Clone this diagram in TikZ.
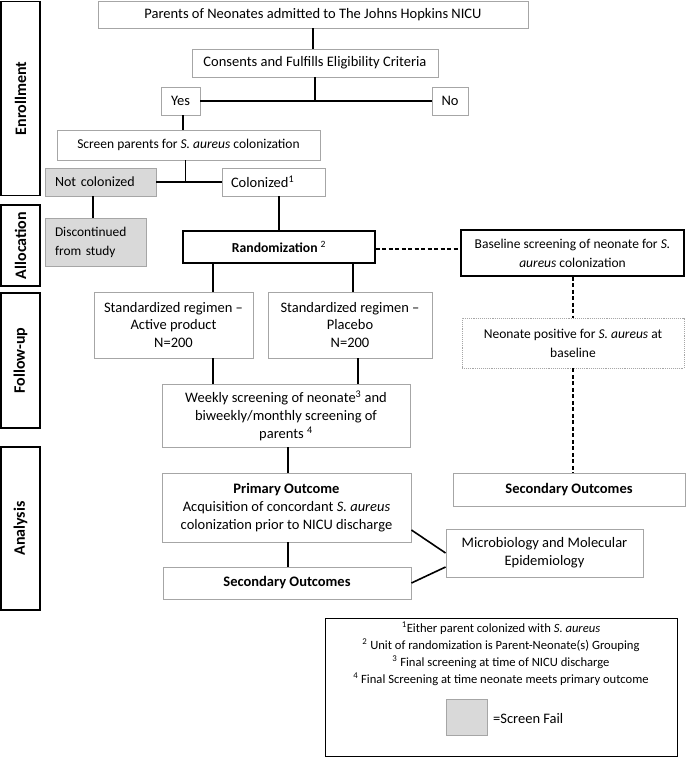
\documentclass[tikz,border=0pt]{standalone}
\usepackage{fontspec}
\setmainfont{Carlito}
\definecolor{boxgray}{HTML}{A6A6A6}
\definecolor{failgray}{HTML}{D9D9D9}
\begin{document}
\begin{tikzpicture}[x=1pt,y=-1pt,
  font=\fontsize{14.5}{18}\selectfont,
  box/.style={draw=boxgray, line width=0.9pt, inner sep=0pt, align=center},
  darkbox/.style={draw=black, line width=1.1pt, inner sep=0pt, align=center},
  failbox/.style={draw=boxgray, fill=failgray, line width=0.9pt, inner xsep=10pt, inner ysep=0pt, align=left},
  dotbox/.style={draw=boxgray, densely dotted, line width=0.9pt, inner sep=0pt, align=center},
  side/.style={draw=black, line width=1.3pt, inner sep=0pt, minimum width=39pt},
  sidetext/.style={rotate=90, inner sep=0pt, font=\fontsize{16}{18}\selectfont\bfseries},
  mid/.style={font=\fontsize{13.5}{19}\selectfont},
  conn/.style={draw=black, line width=1.6pt},
  dconn/.style={draw=black, line width=1.6pt, dash pattern=on 4pt off 2.5pt}]
\useasboundingbox (0,0) rectangle (686,757);

% phase labels
\node[side, minimum height=194pt] (enr) at (20.5,98.5) {};
\node[sidetext] (enrt) at (enr.center) {Enrollment};
\node[side, minimum height=81pt] (alloc) at (20.5,245.5) {};
\node[sidetext] (alloct) at (alloc.center) {Allocation};
\node[side, minimum height=135pt] (fup) at (20.5,360.5) {};
\node[sidetext] (fupt) at (fup.center) {Follow-up};
\node[side, minimum height=163pt] (ana) at (20.5,528.5) {};
\node[sidetext] (anat) at (ana.center) {Analysis};

% boxes
\node[box, minimum width=430pt, minimum height=27pt] (top) at (313,14.5) {Parents of Neonates admitted to The Johns Hopkins NICU};
\node[box, minimum width=246pt, minimum height=28pt] (cons) at (315,63) {Consents and Fulfills Eligibility Criteria};
\node[box, minimum width=39pt, minimum height=28pt] (yes) at (180.5,101) {Yes};
\node[box, minimum width=36pt, minimum height=28pt] (no) at (450,101) {No};
\node[box, minimum width=263pt, minimum height=30pt, font=\fontsize{13.5}{16}\selectfont] (screen) at (188.5,145) {Screen parents for \textit{S. aureus} colonization};
\node[failbox, text width=91pt, minimum height=28pt, font=\fontsize{14}{18}\selectfont] (notcol) at (100.5,182) {Not colonized};
\node[box, inner xsep=9pt, align=left, text width=85pt, minimum height=28pt] (col) at (273.5,182) {Colonized\textsuperscript{1}};
\node[failbox, text width=81pt, minimum height=48pt, font=\fontsize{13.4}{19}\selectfont] (disc) at (95.5,242) {Discontinued\\from study};
\node[darkbox, minimum width=192pt, minimum height=32pt, font=\fontsize{13.7}{17}\selectfont] (rand) at (279,247) {\textbf{Randomization} \textsuperscript{2}};
\node[darkbox, mid, minimum width=223pt, minimum height=46pt] (base) at (572.5,253) {Baseline screening of neonate for \textit{S.}\\\textit{aureus} colonization};
\node[dotbox, mid, minimum width=222pt, minimum height=50pt] (neopos) at (573,343) {Neonate positive for \textit{S. aureus} at\\baseline};
\node[box, minimum width=232pt, minimum height=33pt] (secR) at (569,489.5) {\textbf{Secondary Outcomes}};
\node[box, minimum width=159pt, minimum height=66pt, font=\fontsize{14.5}{17.5}\selectfont] (active) at (173.5,325) {Standardized regimen --\\Active product\\N=200};
\node[box, minimum width=164pt, minimum height=66pt, font=\fontsize{14.5}{17.5}\selectfont] (placebo) at (350,325) {Standardized regimen --\\Placebo\\N=200};
\node[box, minimum width=248pt, minimum height=63pt] (weekly) at (286,415.5) {Weekly screening of neonate\textsuperscript{3} and\\biweekly/monthly screening of\\parents \textsuperscript{4}};
\node[box, minimum width=249pt, minimum height=69pt] (primary) at (286.5,507.5) {\textbf{Primary Outcome}\\Acquisition of concordant \textit{S. aureus}\\colonization prior to NICU discharge};
\node[box, minimum width=248pt, minimum height=32pt] (secL) at (287,583) {\textbf{Secondary Outcomes}};
\node[box, minimum width=197pt, minimum height=48pt] (micro) at (544.5,553) {Microbiology and Molecular\\Epidemiology};

% legend
\node[draw=black, line width=0.9pt, minimum width=352pt, minimum height=138pt, inner sep=0pt] (legend) at (501,687) {};
\node[align=center, inner sep=0pt, font=\fontsize{12.6}{17}\selectfont, anchor=north] (legtext) at (501,622) {\textsuperscript{1}Either parent colonized with \textit{S. aureus}\\\textsuperscript{2} Unit of randomization is Parent-Neonate(s) Grouping\\\textsuperscript{3} Final screening at time of NICU discharge\\\textsuperscript{4} Final Screening at time neonate meets primary outcome};
\node[draw=boxgray, fill=failgray, line width=0.9pt, minimum width=41pt, minimum height=36pt, inner sep=0pt] (swatch) at (466.5,717) {};
\node[anchor=west, inner sep=0pt, font=\fontsize{14.5}{16}\selectfont] (sftext) at (493,719) {=Screen Fail};

% connectors
\draw[conn] (top.south) -- (top.south |- cons.north);
\draw[conn] (cons.south) -- (cons.south |- yes.east);
\draw[conn] (yes.east) -- (no.west);
\draw[conn] ([xshift=2.5pt]yes.south) -- ([xshift=2.5pt]yes.south |- screen.north);
\draw[conn] (notcol.east) -- (col.west);
\draw[conn] ([xshift=-3pt]screen.south) -- ([xshift=-3pt]screen.south |- notcol.east);
\draw[conn] ([xshift=-2.5pt]disc.north |- notcol.south) -- ([xshift=-2.5pt]disc.north);
\draw[conn] (rand.north |- col.south) -- (rand.north);
\draw[dconn] ([yshift=-2pt]rand.east) -- ([yshift=-2pt]rand.east -| base.west);
\draw[dconn] (neopos.north |- base.south) -- (neopos.north);
\draw[dconn] (neopos.south) -- (neopos.south |- secR.north);
\draw[conn] ([xshift=39.5pt]active.north |- rand.south) -- ([xshift=39.5pt]active.north);
\draw[conn] ([xshift=3pt]placebo.north |- rand.south) -- ([xshift=3pt]placebo.north);
\draw[conn] ([xshift=39.5pt]active.south) -- ([xshift=39.5pt]active.south |- weekly.north);
\draw[conn] ([xshift=8pt]placebo.south) -- ([xshift=8pt]placebo.south |- weekly.north);
\draw[conn] ([xshift=2pt]weekly.south) -- ([xshift=2pt]weekly.south |- primary.north);
\draw[conn] ([xshift=1.5pt]primary.south) -- ([xshift=1.5pt]primary.south |- secL.north);
\draw[conn] ([yshift=-22.5pt]primary.east) -- (micro.west);
\draw[conn] (secL.east) -- ([yshift=-14pt]micro.west);
\end{tikzpicture}
\end{document}
